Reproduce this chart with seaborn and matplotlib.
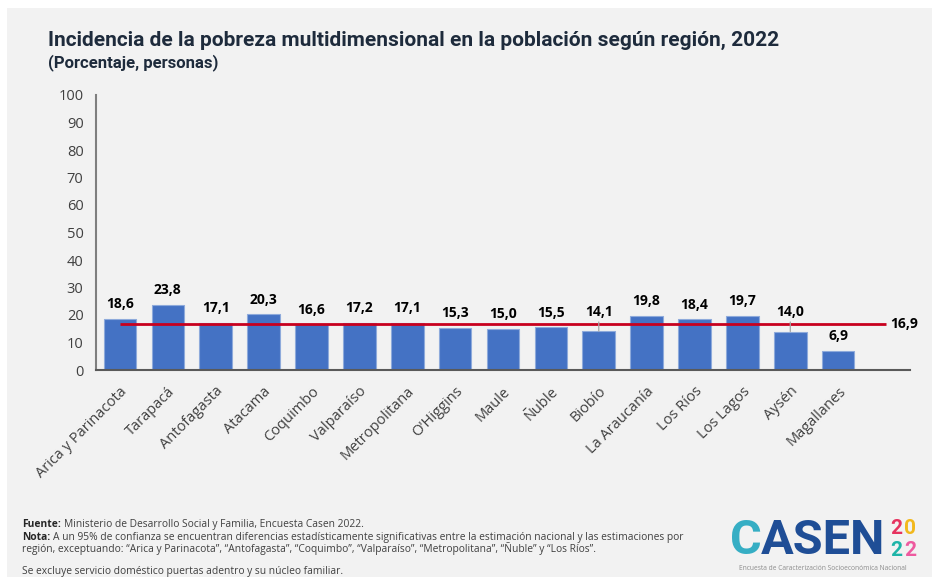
import matplotlib
matplotlib.use("Agg")
import matplotlib.pyplot as plt
import seaborn as sns
import pandas as pd
from matplotlib.patches import Rectangle

# ---------------- data ----------------
regions = ["Arica y Parinacota", "Tarapacá", "Antofagasta", "Atacama", "Coquimbo",
           "Valparaíso", "Metropolitana", "O'Higgins", "Maule", "Ñuble", "Biobío",
           "La Araucanía", "Los Ríos", "Los Lagos", "Aysén", "Magallanes"]
values = [18.6, 23.8, 17.1, 20.3, 16.6, 17.2, 17.1, 15.3, 15.0, 15.5, 14.1,
          19.8, 18.4, 19.7, 14.0, 6.9]
national_value = 16.9
y_ticks = [0, 10, 20, 30, 40, 50, 60, 70, 80, 90, 100]

title = "Incidencia de la pobreza multidimensional en la población según región, 2022"
subtitle = "(Porcentaje, personas)"

df = pd.DataFrame({"region": regions, "valor": values})

# ---------------- style ----------------
BG = "#f2f2f2"
BAR = "#4472c4"
RED = "#c8001e"
TXT = "#404040"
NARROW = ["Roboto", "DejaVu Sans"]
BODY = ["Open Sans", "DejaVu Sans"]

sns.set_theme(style="white")
plt.rcParams["font.family"] = BODY

fig = plt.figure(figsize=(9.32, 5.77), dpi=100, facecolor="white")
fig.patches.append(Rectangle((7 / 932, 0), 1, 1 - 8 / 577, transform=fig.transFigure,
                             facecolor=BG, edgecolor="none", zorder=-10))

ax = fig.add_axes([96 / 932, 1 - 370 / 577, (910 - 96) / 932, (370 - 95) / 577])
ax.set_facecolor(BG)

sns.barplot(data=df, x="region", y="valor", color=BAR, width=0.68, ax=ax,
            edgecolor="#8eaadb", linewidth=0.8, saturation=1, errorbar=None)

ax.set_xlim(-0.5, len(regions) + 0.5)
ax.set_ylim(0, 100)
ax.set_yticks(y_ticks)
ax.set_yticklabels([str(t) for t in y_ticks], fontsize=10.5, color=TXT)
ax.set_xlabel("")
ax.set_ylabel("")
ax.set_xticks(range(len(regions)))
ax.set_xticklabels(regions, rotation=45, ha="right", rotation_mode="anchor",
                   fontsize=10.5, color=TXT)
ax.tick_params(axis="x", length=0, pad=10)
ax.tick_params(axis="y", length=0, pad=9)

for s in ["top", "right"]:
    ax.spines[s].set_visible(False)
ax.spines["left"].set_color("#7f7f7f")
ax.spines["left"].set_linewidth(1.5)
ax.spines["bottom"].set_color("#595959")
ax.spines["bottom"].set_linewidth(1.5)

# national average line
ax.hlines(national_value, 0, len(regions), color=RED, linewidth=2, zorder=5)
ax.annotate(f"{national_value:.1f}".replace(".", ","), xy=(len(regions), national_value),
            xytext=(4, 0), textcoords="offset pixels", ha="left", va="center",
            fontsize=10, fontweight="bold", color="black")

# value labels
leader_labels = [10, 14]  # labels lifted above the average line with a leader
LABEL_GAP = 5.3      # data units between bar top and label centre
LEADER_Y = 21.2      # label centre for lifted labels
for i, v in enumerate(values):
    lab = f"{v:.1f}".replace(".", ",")
    if i in leader_labels:
        ax.annotate(lab, xy=(i, v), xytext=(i, LEADER_Y), textcoords="data",
                    ha="center", va="center", fontsize=10, fontweight="bold",
                    color="black", zorder=6,
                    arrowprops=dict(arrowstyle="-", color="#a6a6a6", lw=0.9,
                                    shrinkA=7, shrinkB=0))
    else:
        ax.text(i, v + LABEL_GAP, lab, ha="center", va="center", fontsize=10,
                fontweight="bold", color="black", zorder=6)

# titles
fig.text(48 / 932, 1 - 40 / 577, title, family=NARROW, fontsize=15, fontweight="bold",
         color="#1e2b3c", ha="left", va="center")
fig.text(48 / 932, 1 - 63 / 577, subtitle, family=NARROW, fontsize=12, fontweight="bold",
         color="#1e2b3c", ha="left", va="center")

# footer
renderer = fig.canvas.get_renderer()


def rich_line(x_px, y_px, bold, rest, size=7.4):
    x = x_px / 932
    y = 1 - y_px / 577
    if bold:
        t = fig.text(x, y, bold, fontsize=size, fontweight="bold", color="#262626",
                     ha="left", va="baseline")
        bb = t.get_window_extent(renderer=renderer)
        x = (bb.x1 + 3) / fig.bbox.width
    fig.text(x, y, rest, fontsize=size, color=TXT, ha="left", va="baseline")


rich_line(22, 527, "Fuente:", "Ministerio de Desarrollo Social y Familia, Encuesta Casen 2022.")
rich_line(22, 540, "Nota:", "A un 95% de confianza se encuentran diferencias estadísticamente "
          "significativas entre la estimación nacional y las estimaciones por")
rich_line(22, 552, None, "región, exceptuando: “Arica y Parinacota”, “Antofagasta”, “Coquimbo”, "
          "“Valparaíso”, “Metropolitana”, “Ñuble” y “Los Ríos”.")
rich_line(22, 574, None, "Se excluye servicio doméstico puertas adentro y su núcleo familiar.")

# logo
t_c = fig.text(730 / 932, 1 - 541 / 577, "C", family=NARROW, fontsize=35, fontweight="bold",
               color="#36aec4", ha="left", va="center")
bbc = t_c.get_window_extent(renderer=renderer)
fig.text((bbc.x1 - 1) / 932, 1 - 541 / 577, "ASEN", family=NARROW, fontsize=35,
         fontweight="bold", color="#1f4e96", ha="left", va="center")
for txt, col, xp, yp in [("2", "#e6335f", 896, 528), ("0", "#f2b81c", 910, 528),
                         ("2", "#1fb5a8", 896, 551), ("2", "#ee5a9f", 910, 551)]:
    fig.text(xp / 932, 1 - yp / 577, txt, family=NARROW, fontsize=15, fontweight="bold",
             color=col, ha="center", va="center")
fig.text(823 / 932, 1 - 569 / 577, "Encuesta de Caracterización Socioeconómica Nacional",
         fontsize=4.8, color="#8c8c8c", ha="center", va="center")

fig.savefig("out.png", dpi=100, facecolor=fig.get_facecolor())
